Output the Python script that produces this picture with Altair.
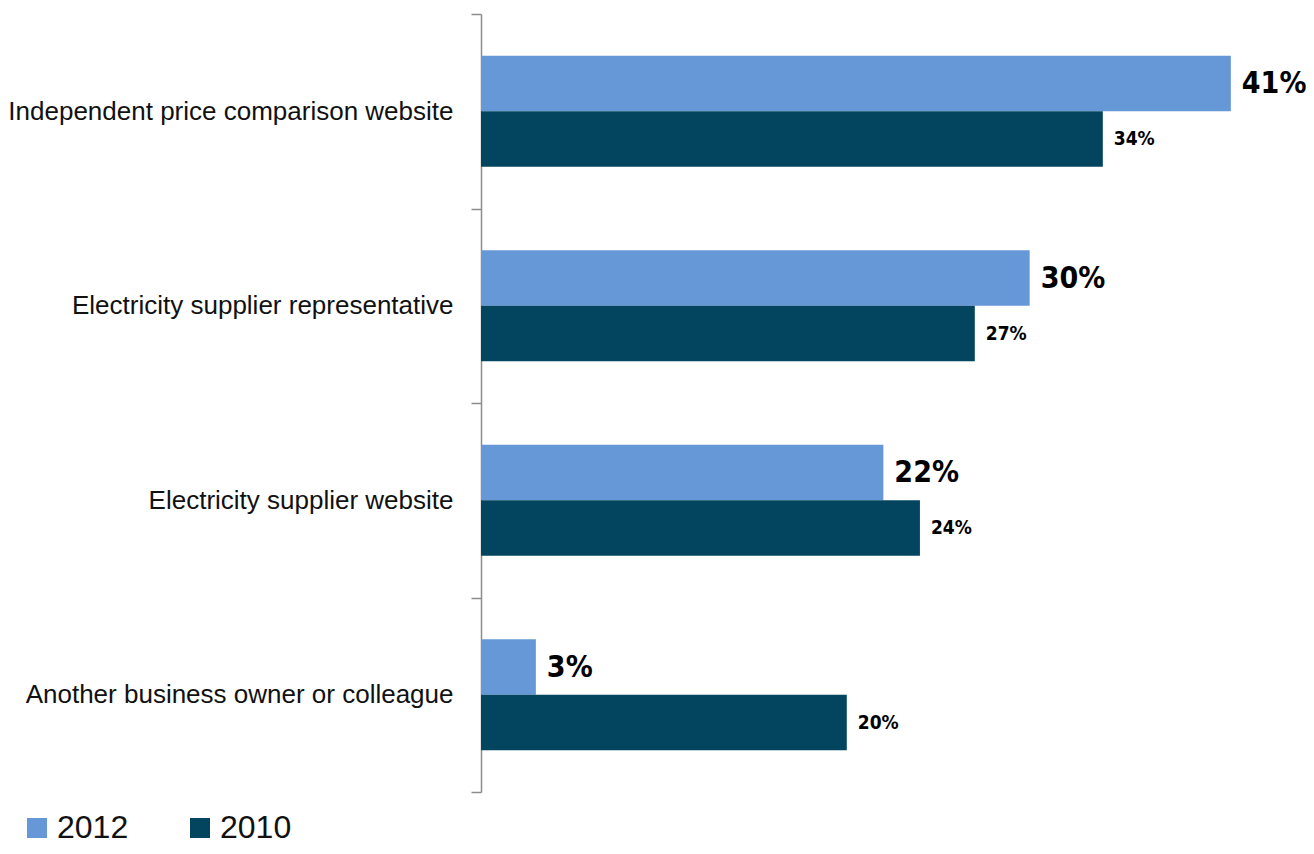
import altair as alt
import pandas as pd

categories = [
    "Independent price comparison website",
    "Electricity supplier representative",
    "Electricity supplier website",
    "Another business owner or colleague",
]
years = ["2012", "2010"]
values_2012 = [41, 30, 22, 3]
values_2010 = [34, 27, 24, 20]

rows = []
for c, a, b in zip(categories, values_2012, values_2010):
    rows.append({"category": c, "year": "2012", "value": a, "label": f"{a}%"})
    rows.append({"category": c, "year": "2010", "value": b, "label": f"{b}%"})
df = pd.DataFrame(rows)

colors = ["#6698D8", "#03445E"]
label_font = "DejaVu Sans Condensed, sans-serif"

y_enc = alt.Y(
    "category:N",
    sort=categories,
    scale=alt.Scale(paddingInner=0, paddingOuter=0),
    axis=alt.Axis(
        title=None,
        labelFont="Liberation Sans, Arial, sans-serif",
        labelFontSize=26,
        labelColor="#111111",
        labelLimit=700,
        labelPadding=18,
        tickBand="extent",
        tickSize=10,
        tickColor="#8c8c8c",
        tickWidth=1.5,
        domainColor="#8c8c8c",
        domainWidth=1.5,
        grid=False,
    ),
)
yoff = alt.YOffset("year:N", sort=years, scale=alt.Scale(paddingInner=0, paddingOuter=0.75))
x_enc = alt.X("value:Q", scale=alt.Scale(domain=[0, 45], nice=False), axis=None)

base = alt.Chart(df)

bars = base.mark_bar().encode(
    y=y_enc,
    yOffset=yoff,
    x=x_enc,
    color=alt.Color(
        "year:N",
        sort=years,
        scale=alt.Scale(domain=years, range=colors),
        legend=alt.Legend(
            title=None,
            orient="none",
            legendX=-460,
            legendY=798,
            direction="horizontal",
            symbolType="square",
            symbolSize=400,
            symbolStrokeWidth=0,
            symbolOpacity=1,
            labelFont="Liberation Sans, Arial, sans-serif",
            labelFontSize=32,
            labelColor="#111111",
            labelOffset=4,
            columnPadding=55,
        ),
    ),
)

big = base.transform_filter(alt.datum.year == "2012").mark_text(
    align="left", baseline="middle", dx=11, dy=1, font=label_font,
    fontWeight="bold", fontSize=30, color="#000000"
).encode(y=alt.Y("category:N", sort=categories), yOffset=yoff, x=x_enc, text="label:N")

small = base.transform_filter(alt.datum.year == "2010").mark_text(
    align="left", baseline="middle", dx=11, font=label_font,
    fontWeight="bold", fontSize=19, color="#000000"
).encode(y=alt.Y("category:N", sort=categories), yOffset=yoff, x=x_enc, text="label:N")

chart = alt.layer(bars, big, small).properties(
    width=823,
    height=778,
    background="white",
    autosize=alt.AutoSizeParams(type="none"),
    padding={"left": 473, "top": 6, "right": 2, "bottom": 54},
).configure_view(strokeWidth=0, stroke="transparent")

chart.save("out.html", embed_options={"renderer": "svg", "actions": False})
